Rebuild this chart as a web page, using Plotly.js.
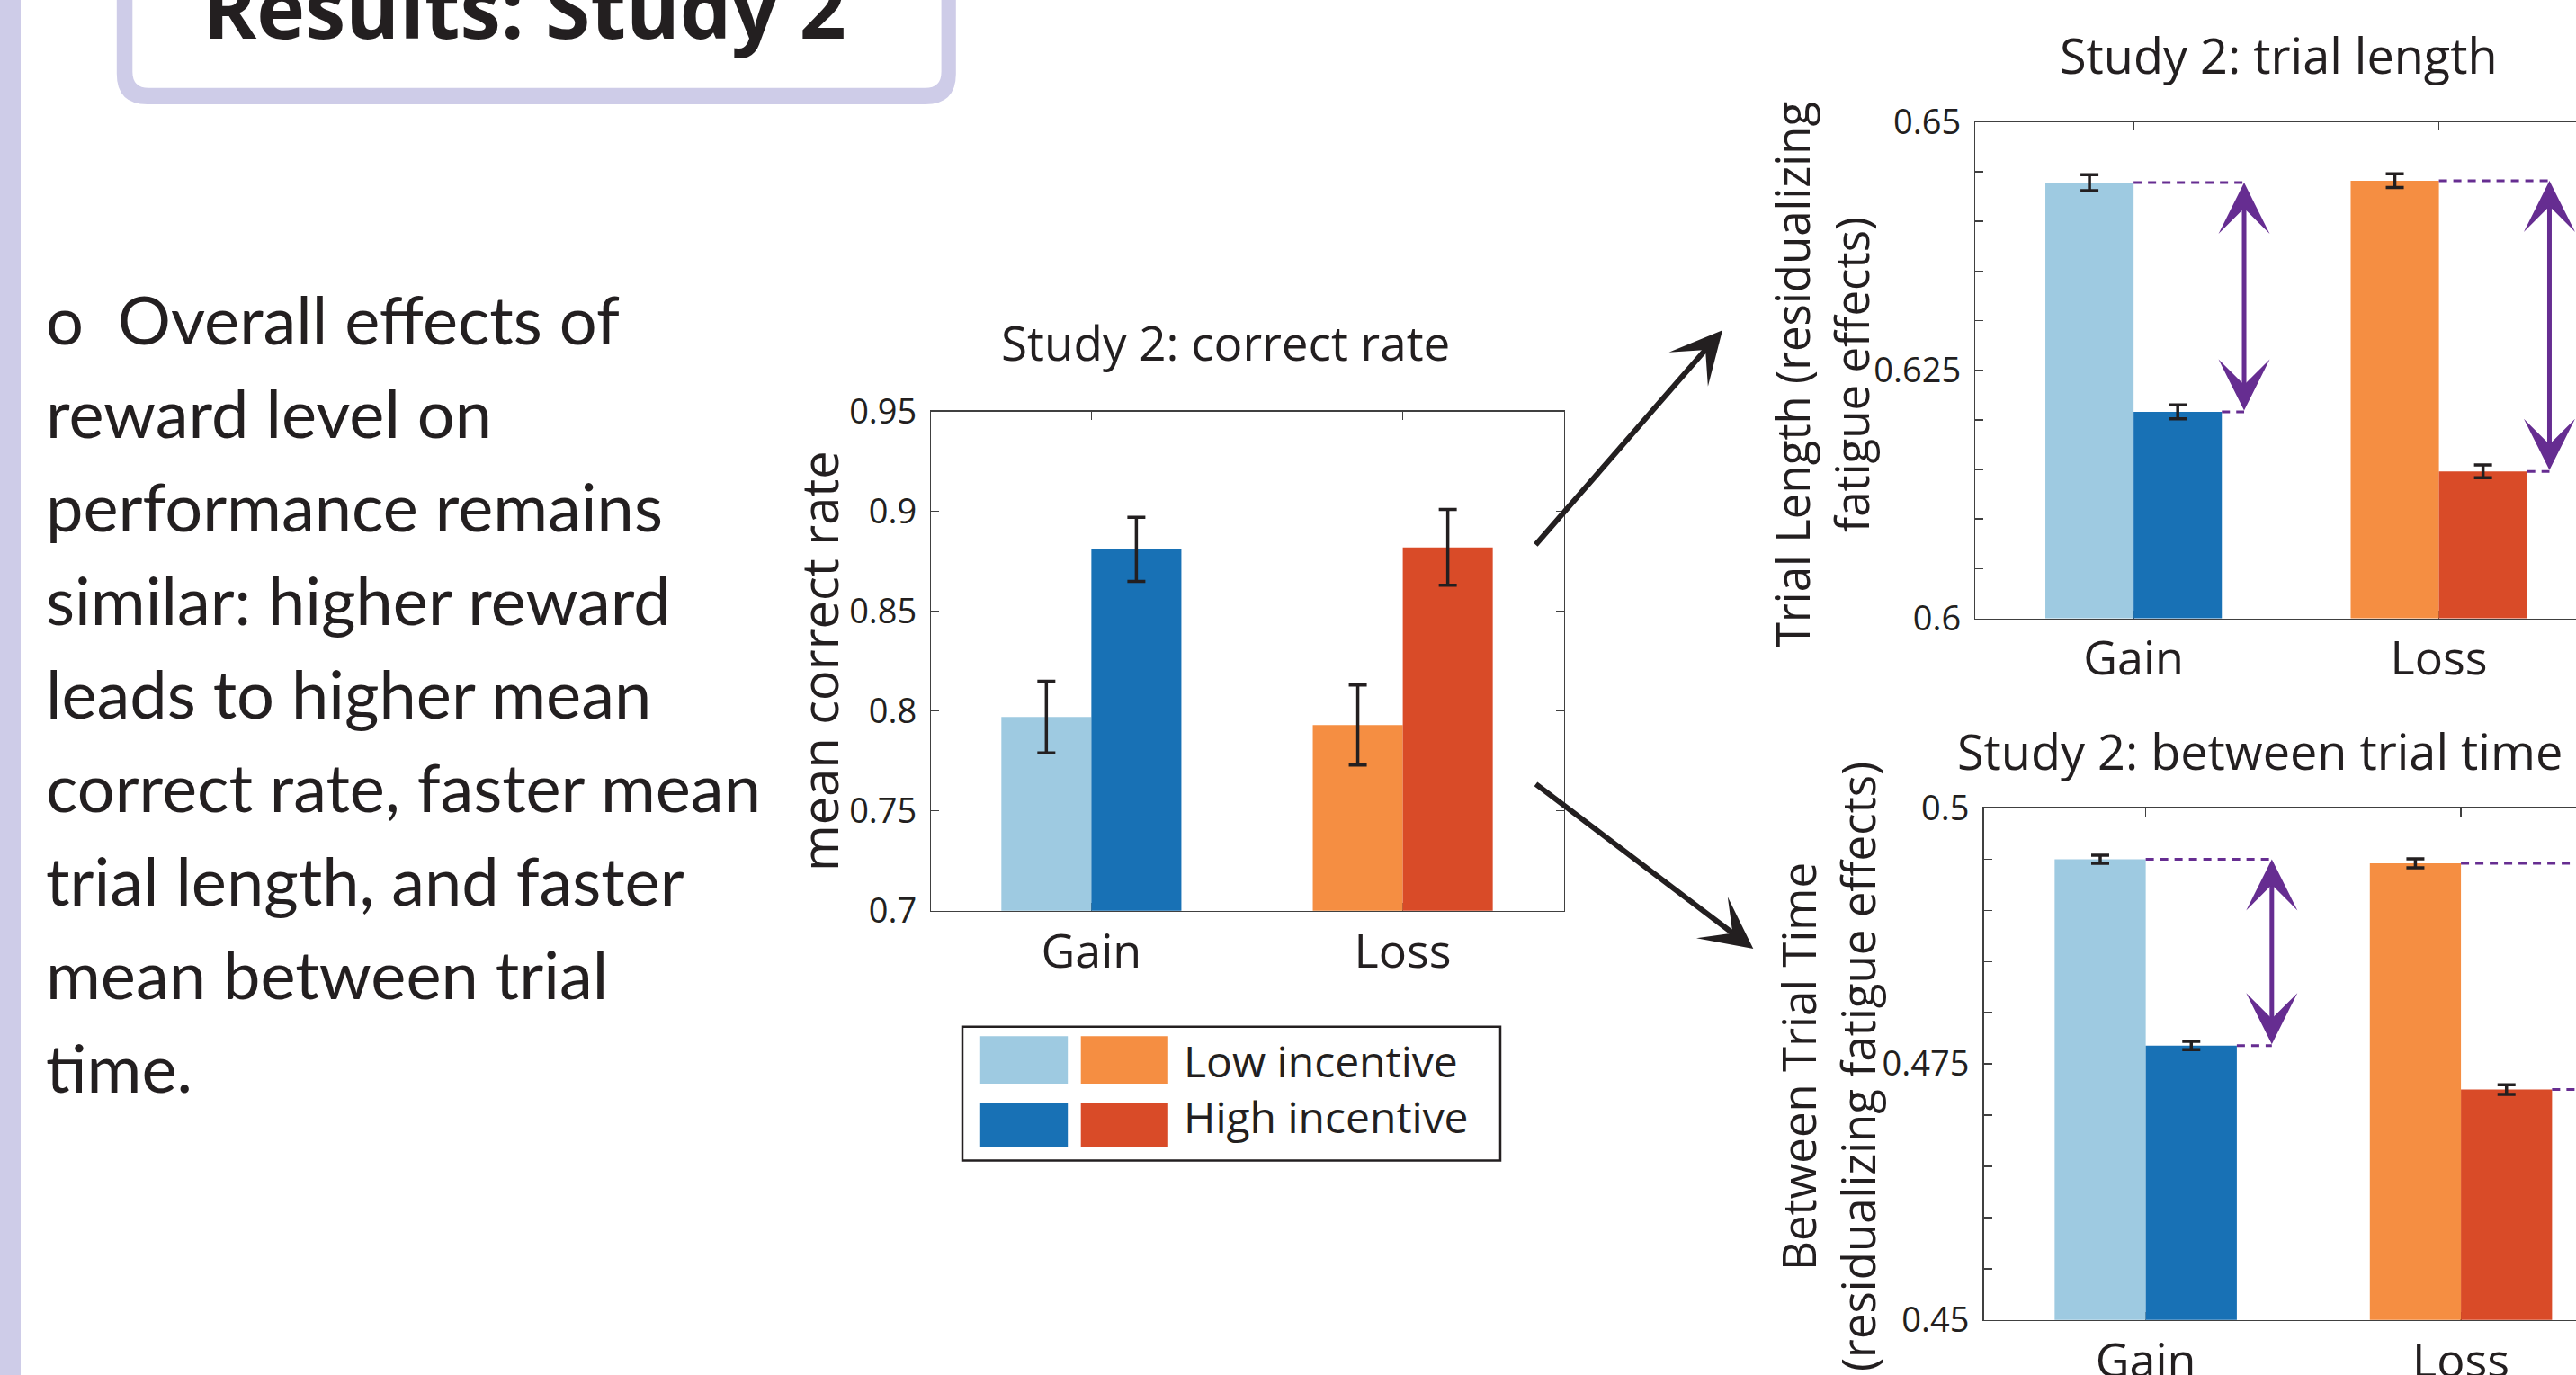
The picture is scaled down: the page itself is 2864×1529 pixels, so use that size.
<!DOCTYPE html>
<html>
<head>
<meta charset="utf-8">
<script src="https://cdn.plot.ly/plotly-3.0.1.min.js"></script>
<style>
html,body{margin:0;padding:0;background:#ffffff;overflow:hidden;}
#chart{width:2864px;height:1529px;}
</style>
</head>
<body>
<div id="chart"></div>
<script>
// ---------------- DATA ----------------
const categories = ['Gain', 'Loss'];
const categoryPos = [1, 2];
const seriesNames = ['Low incentive', 'High incentive'];

// Study 2: correct rate
const correctLow = [0.797, 0.793];
const correctLowErr = [0.018, 0.020];
const correctHigh = [0.881, 0.882];
const correctHighErr = [0.016, 0.019];

// Study 2: trial length (residualizing fatigue effects)
const trialLow = [0.6439, 0.6441];
const trialLowErr = [0.0008, 0.0007];
const trialHigh = [0.6208, 0.6148];
const trialHighErr = [0.0007, 0.00065];

// Study 2: between trial time (residualizing fatigue effects)
const betweenLow = [0.4950, 0.4946];
const betweenLowErr = [0.0004, 0.00044];
const betweenHigh = [0.4768, 0.4725];
const betweenHighErr = [0.0004, 0.00048];

// tick labels
const yTicksCorrect = [0.7, 0.75, 0.8, 0.85, 0.9, 0.95];
const yTickTextCorrect = ['0.7', '0.75', '0.8', '0.85', '0.9', '0.95'];
const yTicksTrial = [0.6, 0.605, 0.61, 0.615, 0.62, 0.625, 0.63, 0.635, 0.64, 0.645, 0.65];
const yTickTextTrial = ['0.6', '', '', '', '', '0.625', '', '', '', '', '0.65'];
const yTicksBetween = [0.45, 0.455, 0.46, 0.465, 0.47, 0.475, 0.48, 0.485, 0.49, 0.495, 0.5];
const yTickTextBetween = ['0.45', '', '', '', '', '0.475', '', '', '', '', '0.5'];

// colours (Gain, Loss)
const lowColors = ['#9ECAE1', '#F58E42'];
const highColors = ['#1871B5', '#D94B28'];

// texts
const heading = 'Results: Study 2';
const chartTitles = ['Study 2: correct rate', 'Study 2: trial length', 'Study 2: between trial time'];
const yTitles = ['mean correct rate', 'Trial Length (residualizing<br>fatigue effects)', 'Between Trial Time<br>(residualizing fatigue effects)'];
const bodyLines = [
  'o\u00A0 Overall effects of',
  'reward level on',
  'performance remains',
  'similar: higher reward',
  'leads to higher mean',
  'correct rate, faster mean',
  'trial length, and faster',
  'mean between trial',
  'time.'
];

// ---------------- STYLE / LAYOUT HELPERS ----------------
const W = 2864, H = 1529;
const px = v => v / W;
const py = v => 1 - v / H;
const INK = '#231f20';
const AXC = '#404040';
const PURPLE = '#662D91';
const LAV = '#CECCE8';
const CHART_FONT = 'Open Sans, Noto Sans, sans-serif';
const BODY_FONT = 'Lato, Open Sans, sans-serif';
const BAR_W = 0.289;

function xAxis(d0, d1, range, anchor) {
  return {
    domain: [px(d0), Math.min(1, px(d1))], range: range, anchor: anchor,
    tickmode: 'array', tickvals: categoryPos, ticktext: categories,
    ticks: 'inside', ticklen: 9, tickwidth: 1.5, tickcolor: AXC,
    showline: true, linecolor: AXC, linewidth: 1.5, mirror: 'ticks',
    showgrid: false, zeroline: false, layer: 'below traces',
    tickfont: {family: CHART_FONT, size: 52, color: INK},
    ticklabelstandoff: -1, fixedrange: true
  };
}
function yAxis(top, bottom, range, anchor, vals, text, mirror) {
  return {
    domain: [py(bottom), py(top)], range: range, anchor: anchor,
    tickmode: 'array', tickvals: vals, ticktext: text,
    ticks: 'inside', ticklen: 9, tickwidth: 1.5, tickcolor: AXC,
    showline: true, linecolor: AXC, linewidth: 1.5, mirror: mirror,
    showgrid: false, zeroline: false, layer: 'below traces',
    tickfont: {family: CHART_FONT, size: 38, color: INK},
    ticklabelstandoff: 7, fixedrange: true
  };
}
function barTrace(name, vals, errs, colors, xa, ya) {
  return {
    type: 'bar', name: name, x: categoryPos, y: vals,
    xaxis: xa, yaxis: ya,
    marker: {color: colors, line: {width: 0}},
    error_y: {type: 'data', array: errs, visible: true, color: INK, thickness: 3.5, width: 10},
    showlegend: false, hoverinfo: 'skip'
  };
}

const data = [
  barTrace(seriesNames[0], correctLow, correctLowErr, lowColors, 'x', 'y'),
  barTrace(seriesNames[1], correctHigh, correctHighErr, highColors, 'x', 'y'),
  barTrace(seriesNames[0], trialLow, trialLowErr, lowColors, 'x2', 'y2'),
  barTrace(seriesNames[1], trialHigh, trialHighErr, highColors, 'x2', 'y2'),
  barTrace(seriesNames[0], betweenLow, betweenLowErr, lowColors, 'x3', 'y3'),
  barTrace(seriesNames[1], betweenHigh, betweenHighErr, highColors, 'x3', 'y3')
];

// ---------------- SHAPES ----------------
function roundBottomBox(x0, x1, top, bottom, r) {
  const P = (x, y) => px(x) + ',' + py(y);
  return 'M' + P(x0, top) + ' L' + P(x0, bottom - r) + ' Q' + P(x0, bottom) + ' ' + P(x0 + r, bottom) +
    ' L' + P(x1 - r, bottom) + ' Q' + P(x1, bottom) + ' ' + P(x1, bottom - r) + ' L' + P(x1, top) + ' Z';
}
const shapes = [];
// left lavender column rule
shapes.push({type: 'rect', xref: 'paper', yref: 'paper', x0: 0, x1: px(23), y0: 0, y1: 1, fillcolor: LAV, line: {width: 0}, layer: 'below'});
// heading box
shapes.push({type: 'path', xref: 'paper', yref: 'paper', path: roundBottomBox(129.8, 1062.8, -80, 116, 34), fillcolor: LAV, line: {width: 0}, layer: 'below'});
shapes.push({type: 'path', xref: 'paper', yref: 'paper', path: roundBottomBox(147.3, 1046.6, -80, 97.7, 18), fillcolor: '#ffffff', line: {width: 0}, layer: 'below'});

// dashed guide lines for the difference arrows (trial length: x2/y2, between: x3/y3)
function guides(xa, ya, lows, highs, off) {
  categoryPos.forEach((p, i) => {
    shapes.push({type: 'line', xref: xa, yref: ya, x0: p, x1: p + off, y0: lows[i], y1: lows[i],
      line: {color: PURPLE, width: 3, dash: '9px,7px'}});
    shapes.push({type: 'line', xref: xa, yref: ya, x0: p + BAR_W, x1: p + off, y0: highs[i], y1: highs[i],
      line: {color: PURPLE, width: 3, dash: '9px,7px'}});
  });
}
const trialArrowOff = 0.362;
const betweenArrowOff = 0.40;
guides('x2', 'y2', trialLow, trialHigh, trialArrowOff);
guides('x3', 'y3', betweenLow, betweenHigh, betweenArrowOff);

// legend (manual, two swatches per row)
shapes.push({type: 'rect', xref: 'paper', yref: 'paper', x0: px(1070), x1: px(1668), y0: py(1290.5), y1: py(1141.7),
  fillcolor: '#ffffff', line: {color: INK, width: 2.5}});
const swRows = [[1152.3, 1205], [1226, 1276]];
const swCols = [[1089.8, 1187.2], [1201.7, 1298.8]];
const swColors = [lowColors, highColors];
swRows.forEach((r, ri) => {
  swCols.forEach((c, ci) => {
    shapes.push({type: 'rect', xref: 'paper', yref: 'paper', x0: px(c[0]), x1: px(c[1]), y0: py(r[1]), y1: py(r[0]),
      fillcolor: swColors[ri][ci], line: {width: 0}});
  });
});

// ---------------- ANNOTATIONS ----------------
const ann = [];
function txt(text, xPix, yPix, size, opts) {
  return Object.assign({
    text: text, xref: 'paper', yref: 'paper', x: px(xPix), y: py(yPix),
    xanchor: 'center', yanchor: 'middle', showarrow: false,
    font: {family: CHART_FONT, size: size, color: INK}
  }, opts || {});
}
// body text, one annotation per line (baseline spacing 104 px)
bodyLines.forEach((line, k) => {
  const base = 383 + 104 * k;
  ann.push(txt(line, 48.8, base - 0.39 * 74, 74, {xanchor: 'left', font: {family: BODY_FONT, size: 74, color: INK}}));
});
// chart titles
ann.push(txt(chartTitles[0], 1362.6, 401 - 0.39 * 53, 53));
ann.push(txt(chartTitles[1], 2533, 82 - 0.39 * 54, 54));
ann.push(txt(chartTitles[2], 2512.7, 856.4 - 0.39 * 54, 54));
// y-axis titles
ann.push(txt(yTitles[0], 910, 735, 56, {textangle: -90}));
ann.push(txt(yTitles[1], 2024.4, 416.7, 51, {textangle: -90}));
ann.push(txt(yTitles[2], 2032, 1186, 51, {textangle: -90}));
// legend labels (one block, two rows)
ann.push(txt(seriesNames.join('<br>'), 1315.3, (1198.3 + 1260) / 2 - 0.39 * 48, 48, {xanchor: 'left', align: 'left', borderpad: 0}));
// black connector arrows
ann.push({xref: 'paper', yref: 'paper', x: px(1915), y: py(367.3), ax: -209, ay: 240, axref: 'pixel', ayref: 'pixel',
  text: '', showarrow: true, arrowhead: 3, arrowsize: 1.6, arrowwidth: 6, arrowcolor: INK, standoff: 0});
ann.push({xref: 'paper', yref: 'paper', x: px(1949.3), y: py(1055), ax: -243.3, ay: -184.3, axref: 'pixel', ayref: 'pixel',
  text: '', showarrow: true, arrowhead: 3, arrowsize: 1.6, arrowwidth: 6, arrowcolor: INK, standoff: 0});
// purple double-headed difference arrows
function diffArrows(xa, ya, lows, highs, off) {
  categoryPos.forEach((p, i) => {
    ann.push({xref: xa, yref: ya, axref: xa, ayref: ya, x: p + off, y: lows[i], ax: p + off, ay: highs[i],
      text: '', showarrow: true, arrowside: 'end+start', arrowhead: 3, startarrowhead: 3,
      arrowsize: 1.9, startarrowsize: 1.9, arrowwidth: 5, arrowcolor: PURPLE, standoff: 0, startstandoff: 0});
  });
}
diffArrows('x2', 'y2', trialLow, trialHigh, trialArrowOff);
diffArrows('x3', 'y3', betweenLow, betweenHigh, betweenArrowOff);

// ---------------- LAYOUT ----------------
const layout = {
  width: W, height: H, autosize: false,
  margin: {l: 0, r: 0, t: 0, b: 0, pad: 0},
  paper_bgcolor: '#ffffff', plot_bgcolor: '#ffffff',
  showlegend: false, barmode: 'group', bargap: 1 - 2 * BAR_W, bargroupgap: 0,
  font: {family: CHART_FONT, color: INK},
  title: {text: heading, font: {family: CHART_FONT, size: 91, color: INK, weight: 700},
    x: px(583), xref: 'paper', xanchor: 'center', y: py(43.3), yref: 'paper', yanchor: 'bottom', pad: {t: 0, b: 0, l: 0, r: 0}},
  xaxis: xAxis(1035.4, 1738.6, [0.486, 2.517], 'y'),
  yaxis: yAxis(457.7, 1012.7, [0.7, 0.95], 'x', yTicksCorrect, yTickTextCorrect, 'ticks'),
  xaxis2: xAxis(2196.3, 2864, [0.482, 2.449], 'y2'),
  yaxis2: yAxis(135.8, 687.5, [0.6, 0.65], 'x2', yTicksTrial, yTickTextTrial, false),
  xaxis3: xAxis(2205.5, 2864, [0.486, 2.365], 'y3'),
  yaxis3: yAxis(898.5, 1467.8, [0.45, 0.5], 'x3', yTicksBetween, yTickTextBetween, false),
  shapes: shapes,
  annotations: ann
};

Plotly.newPlot('chart', data, layout, {displayModeBar: false, staticPlot: true});
</script>
</body>
</html>
